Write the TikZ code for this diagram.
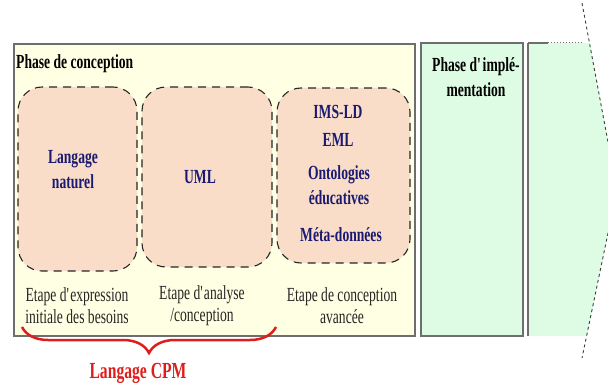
\documentclass[tikz,border=0pt]{standalone}
\usepackage{fontspec}
\setmainfont{Liberation Serif}[FakeStretch=0.68]
\usetikzlibrary{decorations.pathreplacing}

\definecolor{jaunepale}{RGB}{255,255,227}
\definecolor{peche}{RGB}{250,221,200}
\definecolor{vertpale}{RGB}{221,252,227}
\definecolor{bleunuit}{RGB}{26,26,114}
\definecolor{rougecpm}{RGB}{222,30,28}
\definecolor{grisbord}{RGB}{110,110,110}

\begin{document}
\begin{tikzpicture}[x=1pt,y=-1pt,
  phasebox/.style={draw=grisbord,line width=1.5pt,inner sep=0pt},
  langbox/.style={draw=black!85,dash pattern=on 8pt off 6pt,line width=1.1pt,fill=peche,rounded corners=24pt,inner sep=0pt},
  langtxt/.style={font=\fontsize{20}{25}\selectfont\bfseries,text=bleunuit,align=center,inner sep=0pt},
  etape/.style={font=\fontsize{20}{22}\selectfont,text=black!85,align=center,inner sep=0pt},
  titre/.style={font=\fontsize{20}{25}\selectfont\bfseries,align=center,inner sep=0pt}]

\clip (0,0) rectangle (608,385);

% les deux phases
\node[phasebox,fill=jaunepale,minimum width=401,minimum height=292] (conception) at (214.5,190) {};
\node[phasebox,fill=vertpale,minimum width=102,minimum height=293] (implementation) at (472,189.5) {};

% la fleche
\fill[vertpale] (528,43) -- (590,43) -- (617,190) -- (587,336) -- (528,336) -- cycle;
\draw[grisbord,line width=1.5pt] (528,43) -- (528,336);
\draw[grisbord,line width=1.2pt] (528,43) -- (548,43);
\draw[grisbord,dotted,line width=1pt] (548,43) -- (584,43);
\draw[black!75,dashed,line width=0.9pt] (582,3) -- (617,190) -- (582,358);

\node[titre,anchor=west] (titreconc) at (16,64) {Phase de conception};
\node[titre] (titreimpl) at (476,77) {Phase d\textquotesingle impl\'e-\\mentation};

% les langages
\node[langbox,minimum width=119,minimum height=184] (naturel) at (77.5,179) {};
\node[langbox,minimum width=130,minimum height=180] (uml) at (207,177) {};
\node[langbox,minimum width=133,minimum height=175] (avance) at (343.5,175.5) {};

\node[langtxt] (txtnaturel) at (73,170) {Langage\\naturel};
\node[langtxt] (txtuml) at (200,177) {UML};
\node[langtxt] (imsld) at (338,112) {IMS-LD};
\node[langtxt] (eml) at (338,140) {EML};
\node[langtxt] (onto) at (339,185) {Ontologies\\éducatives};
\node[langtxt] (meta) at (341,235) {Méta-données};

% les etapes
\node[etape] (etape1) at (77,306) {Etape d\textquotesingle expression\\initiale des besoins};
\node[etape] (etape2) at (202,306) {Etape d\textquotesingle analyse\\/conception};
\node[etape] (etape3) at (342,306) {Etape de conception\\avancée};

% accolade
\coordinate (bracea) at (22,327);
\coordinate (braceb) at (276,327);
\draw[rougecpm,line width=2.5pt,decorate,decoration={brace,amplitude=26pt,mirror}] (bracea) -- (braceb);
\node[font=\fontsize{23}{25}\selectfont\bfseries,text=rougecpm,inner sep=0pt] (cpm) at (138,373) {Langage CPM};

\end{tikzpicture}
\end{document}
